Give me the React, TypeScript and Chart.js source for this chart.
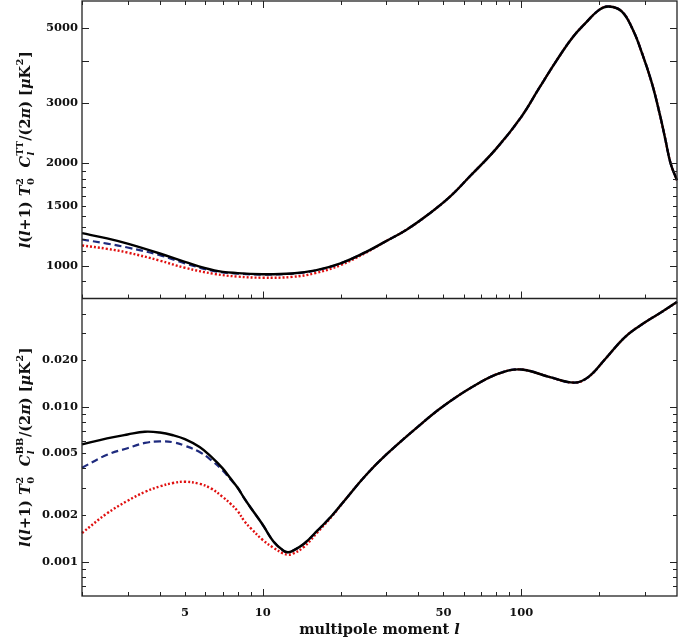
import React, { useEffect, useRef } from 'react';
import { Chart, registerables } from 'chart.js';

Chart.register(...registerables);

// ---- Data ----
const ellTT = [2, 2.5, 3, 4, 5, 6.5, 8, 10, 13, 16, 20, 25, 30, 36, 44, 53, 63, 80, 100, 117, 136, 157, 177, 200, 218, 245, 272, 293, 320, 345, 361, 378, 400];
const ttSolid = [1245, 1202, 1160, 1085, 1025, 968, 950, 943, 948, 968, 1015, 1095, 1180, 1275, 1420, 1595, 1825, 2208, 2738, 3319, 3979, 4665, 5163, 5650, 5781, 5585, 4878, 4212, 3435, 2738, 2339, 1995, 1782];
const ttDashed = [1193, 1160, 1130, 1073, 1015, 963, 947, 941, 947, 967, 1015, 1095, 1180, 1275, 1420, 1595, 1825, 2208, 2738, 3319, 3979, 4665, 5163, 5650, 5781, 5585, 4878, 4212, 3435, 2738, 2339, 1995, 1782];
const ttDotted = [1146, 1120, 1092, 1034, 985, 945, 928, 921, 926, 950, 1003, 1090, 1180, 1275, 1420, 1595, 1825, 2208, 2738, 3319, 3979, 4665, 5163, 5650, 5781, 5585, 4878, 4212, 3435, 2738, 2339, 1995, 1782];

const ellBB = [2, 2.5, 3, 3.5, 4, 4.5, 5, 5.7, 6.3, 7, 7.5, 8, 8.5, 9, 10, 11, 12, 12.5, 13, 14.4, 16.3, 18.6, 21, 25, 30, 40, 50, 65, 82, 100, 128, 160, 182, 212, 253, 302, 350, 400];
const bbSolid = [0.00572, 0.00625, 0.00662, 0.0069, 0.00682, 0.00655, 0.00618, 0.0055, 0.00478, 0.004, 0.00345, 0.003, 0.00255, 0.00222, 0.00173, 0.00135, 0.00118, 0.00115, 0.00117, 0.0013, 0.00159, 0.002, 0.00255, 0.0036, 0.0049, 0.00748, 0.0101, 0.0135, 0.0164, 0.0174, 0.0156, 0.01432, 0.0156, 0.0205, 0.0284, 0.0352, 0.041, 0.0475];
const bbDashed = [0.00404, 0.0049, 0.0054, 0.00584, 0.00597, 0.0059, 0.0056, 0.0051, 0.00454, 0.00388, 0.0034, 0.003, 0.00255, 0.00222, 0.00173, 0.00135, 0.00118, 0.00115, 0.00117, 0.0013, 0.00159, 0.002, 0.00255, 0.0036, 0.0049, 0.00748, 0.0101, 0.0135, 0.0164, 0.0174, 0.0156, 0.01432, 0.0156, 0.0205, 0.0284, 0.0352, 0.041, 0.0475];
const bbDotted = [0.00153, 0.00205, 0.00247, 0.00282, 0.00306, 0.00322, 0.00328, 0.00318, 0.00297, 0.00262, 0.00237, 0.00212, 0.00182, 0.00164, 0.00138, 0.00123, 0.00113, 0.00111, 0.00112, 0.00124, 0.00155, 0.00198, 0.00255, 0.0036, 0.0049, 0.00748, 0.0101, 0.0135, 0.0164, 0.0174, 0.0156, 0.01432, 0.0156, 0.0205, 0.0284, 0.0352, 0.041, 0.0475];

const xTickLabels = [5, 10, 50, 100];
const ttTickLabels = [1000, 1500, 2000, 3000, 5000];
const bbTickLabels = [0.001, 0.002, 0.005, 0.01, 0.02];

const xTickMarks = [2, 3, 4, 5, 6, 7, 8, 9, 10, 20, 30, 40, 50, 60, 70, 80, 90, 100, 200, 300];
const xMajor = [10, 100];
const ttTickMarks = [900, 1000, 1100, 1200, 1300, 1400, 1500, 1600, 1700, 1800, 1900, 2000, 3000, 4000, 5000];
const ttMajor = [1000, 2000, 3000, 4000, 5000];
const bbTickMarks = [0.0007, 0.0008, 0.0009, 0.001, 0.002, 0.003, 0.004, 0.005, 0.006, 0.007, 0.008, 0.009, 0.01, 0.02, 0.03, 0.04];
const bbMajor = [0.001, 0.01];

const FAMILY = '"DejaVu Serif", "Liberation Serif", serif';
const INK = '#111111';

type Seg = { t: string; it?: boolean; sup?: string; sub?: string; subIt?: boolean };

function fontStr(it: boolean | undefined, size: number) {
  return `${it ? 'italic ' : ''}bold ${size}px ${FAMILY}`;
}

function segWidth(ctx: CanvasRenderingContext2D, s: Seg, size: number) {
  ctx.font = fontStr(s.it, size);
  let w = ctx.measureText(s.t).width;
  if (s.sup || s.sub) {
    const small = size * 0.68;
    ctx.font = fontStr(false, small);
    const a = s.sup ? ctx.measureText(s.sup).width : 0;
    ctx.font = fontStr(s.subIt, small);
    const b = s.sub ? ctx.measureText(s.sub).width : 0;
    w += Math.max(a, b) + 1;
  }
  return w;
}

function drawRich(ctx: CanvasRenderingContext2D, segs: Seg[], cx: number, cy: number, size: number, rot: number) {
  ctx.save();
  const total = segs.reduce((acc, s) => acc + segWidth(ctx, s, size), 0);
  ctx.translate(cx, cy);
  ctx.rotate(rot);
  ctx.fillStyle = INK;
  ctx.textBaseline = 'alphabetic';
  ctx.textAlign = 'left';
  let x = -total / 2;
  const base = size * 0.36;
  for (const s of segs) {
    ctx.font = fontStr(s.it, size);
    ctx.fillText(s.t, x, base);
    let w = ctx.measureText(s.t).width;
    if (s.sup || s.sub) {
      const small = size * 0.68;
      let ew = 0;
      if (s.sup) {
        ctx.font = fontStr(false, small);
        ctx.fillText(s.sup, x + w + 0.5, base - size * 0.48);
        ew = Math.max(ew, ctx.measureText(s.sup).width);
      }
      if (s.sub) {
        ctx.font = fontStr(s.subIt, small);
        ctx.fillText(s.sub, x + w + 0.5, base + size * 0.28);
        ew = Math.max(ew, ctx.measureText(s.sub).width);
      }
      w += ew + 1;
    }
    x += w;
  }
  ctx.restore();
}

function yTitle(spec: string): Seg[] {
  return [
    { t: 'l', it: true }, { t: '(' }, { t: 'l', it: true }, { t: '+1) ' },
    { t: 'T', it: true, sub: '0', sup: '2' }, { t: '  ' },
    { t: 'C', it: true, sub: 'l', subIt: true, sup: spec },
    { t: '/(2' }, { t: 'π', it: true }, { t: ') [' }, { t: 'μ', it: true }, { t: 'K', sup: '2' }, { t: ']' },
  ];
}

const framePlugin = {
  id: 'framePlugin',
  afterDraw(chart: any) {
    const ctx: CanvasRenderingContext2D = chart.ctx;
    const xs = chart.scales.x;
    const yT = chart.scales.yTT;
    const yB = chart.scales.yBB;
    const L = chart.chartArea.left;
    const R = chart.chartArea.right;
    const top = yT.top;
    const mid = yT.bottom;
    const bot = yB.bottom;
    ctx.save();
    ctx.strokeStyle = '#222';
    ctx.lineWidth = 1.3;
    ctx.strokeRect(L, top, R - L, bot - top);
    ctx.beginPath();
    ctx.moveTo(L, mid);
    ctx.lineTo(R, mid);
    ctx.stroke();
    ctx.lineWidth = 1;
    const seg = (x1: number, y1: number, x2: number, y2: number) => {
      ctx.beginPath();
      ctx.moveTo(x1, y1);
      ctx.lineTo(x2, y2);
      ctx.stroke();
    };
    for (const v of xTickMarks) {
      const px = Math.round(xs.getPixelForValue(v)) + 0.5;
      const len = xMajor.includes(v) ? 7 : 4;
      seg(px, top, px, top + len);
      seg(px, mid, px, mid - len);
      seg(px, bot, px, bot - len);
    }
    for (const v of ttTickMarks) {
      const py = Math.round(yT.getPixelForValue(v)) + 0.5;
      const len = ttMajor.includes(v) ? 7 : 4;
      seg(L, py, L + len, py);
      seg(R, py, R - len, py);
    }
    for (const v of bbTickMarks) {
      const py = Math.round(yB.getPixelForValue(v)) + 0.5;
      const len = bbMajor.includes(v) ? 7 : 4;
      seg(L, py, L + len, py);
      seg(R, py, R - len, py);
    }
    ctx.restore();

    drawRich(ctx, yTitle('TT'), 25, (top + mid) / 2, 14.5, -Math.PI / 2);
    drawRich(ctx, yTitle('BB'), 25, (mid + bot) / 2, 14.5, -Math.PI / 2);
    drawRich(ctx, [{ t: 'multipole moment ' }, { t: 'l', it: true }], (L + R) / 2, 629, 14.5, 0);
  },
};

const tickFont = { family: FAMILY, size: 11.5, weight: 'bold' as const };

function pts(xs: number[], ys: number[]) {
  return xs.map((x, i) => ({ x, y: ys[i] }));
}

const noPadV = (s: any) => {
  s.width = 82;
  s.paddingTop = 0;
  s.paddingBottom = 0;
};

export default function App() {
  const ref = useRef<HTMLCanvasElement | null>(null);
  useEffect(() => {
    if (!ref.current) return;
    const line = (label: string, data: any[], yAxisID: string, color: string, width: number, dash: number[]) => ({
      label,
      data,
      yAxisID,
      xAxisID: 'x',
      borderColor: color,
      borderWidth: width,
      borderDash: dash,
      pointRadius: 0,
      fill: false,
      tension: 0.4,
      clip: false as any,
    });
    const chart = new Chart(ref.current, {
      type: 'line',
      data: {
        datasets: [
          line('TT solid', pts(ellTT, ttSolid), 'yTT', '#000000', 2.4, []),
          line('TT dashed', pts(ellTT, ttDashed), 'yTT', '#1e2a7e', 2.2, [7, 4]),
          line('TT dotted', pts(ellTT, ttDotted), 'yTT', '#e01010', 2.4, [2, 2]),
          line('BB solid', pts(ellBB, bbSolid), 'yBB', '#000000', 2.4, []),
          line('BB dashed', pts(ellBB, bbDashed), 'yBB', '#1e2a7e', 2.2, [7, 4]),
          line('BB dotted', pts(ellBB, bbDotted), 'yBB', '#e01010', 2.4, [2, 2]),
        ],
      },
      options: {
        animation: false,
        responsive: false,
        events: [],
        layout: { padding: { top: 1, right: 18, left: 0, bottom: 0 } },
        plugins: { legend: { display: false }, tooltip: { enabled: false } },
        scales: {
          x: {
            type: 'logarithmic',
            min: 2,
            max: 400,
            grid: { display: false, drawTicks: false, tickLength: 0 },
            border: { display: false },
            ticks: {
              padding: 10,
              font: tickFont,
              color: INK,
              maxRotation: 0,
              autoSkip: false,
              callback: (v: any) => String(v),
            },
            afterBuildTicks: (s: any) => {
              s.ticks = xTickLabels.map((v) => ({ value: v }));
            },
            afterFit: (s: any) => {
              s.height = 48;
              s.paddingLeft = 0;
              s.paddingRight = 0;
            },
          },
          yTT: {
            type: 'logarithmic',
            position: 'left',
            stack: 'panels',
            stackWeight: 1,
            weight: 2,
            min: 800,
            max: 6000,
            grid: { display: false, drawTicks: false, tickLength: 0 },
            border: { display: false },
            ticks: { padding: 4, font: tickFont, color: INK, autoSkip: false, callback: (v: any) => String(v) },
            afterBuildTicks: (s: any) => {
              s.ticks = ttTickLabels.map((v) => ({ value: v }));
            },
            afterFit: noPadV,
          },
          yBB: {
            type: 'logarithmic',
            position: 'left',
            stack: 'panels',
            stackWeight: 1,
            weight: 1,
            min: 0.0006,
            max: 0.05,
            grid: { display: false, drawTicks: false, tickLength: 0 },
            border: { display: false },
            ticks: { padding: 4, font: tickFont, color: INK, autoSkip: false, callback: (v: any) => Number(v).toFixed(3) },
            afterBuildTicks: (s: any) => {
              s.ticks = bbTickLabels.map((v) => ({ value: v }));
            },
            afterFit: noPadV,
          },
        },
      } as any,
      plugins: [framePlugin],
    });
    return () => chart.destroy();
  }, []);
  return (
    <div style={{ position: 'absolute', left: 0, top: 0, width: 695, height: 644, background: '#fff' }}>
      <canvas ref={ref} width={695} height={644} style={{ display: 'block' }} />
    </div>
  );
}
